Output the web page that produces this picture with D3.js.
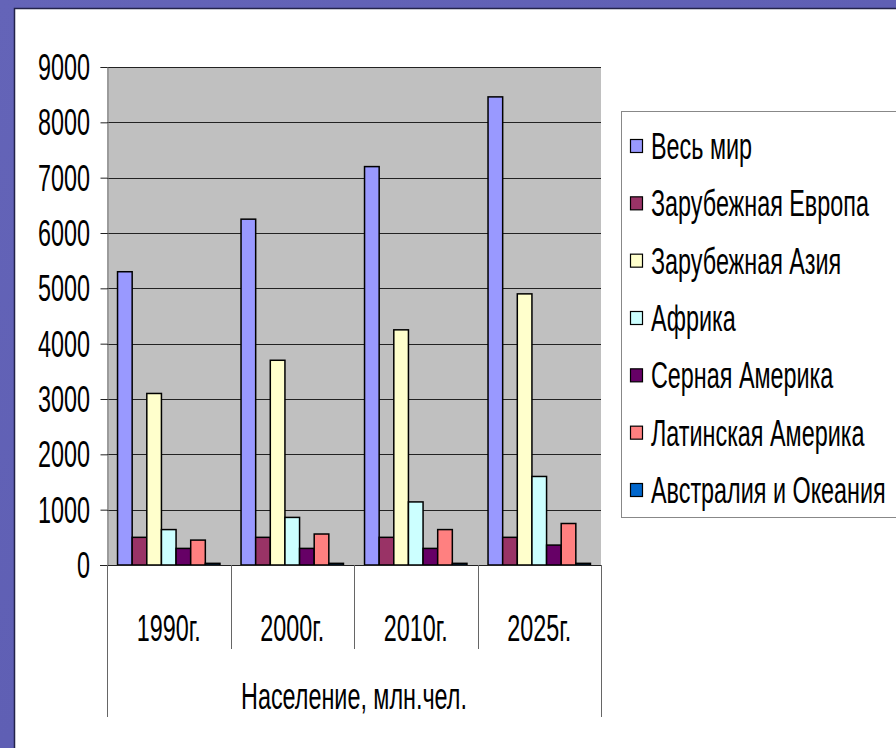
<!DOCTYPE html>
<html lang="ru">
<head>
  <title>Население, млн.чел.</title>
  <meta charset="utf-8">
  <script src="https://d3js.org/d3.v7.min.js"></script>
  <style>
    body { margin: 0; background: #fff; }
    text { font-family: "Liberation Sans", Arial, sans-serif; fill: #000; }
  </style>
</head>
<body>
<div class="chart"></div>

<script type="text/javascript">

// data
var years = ["1990г.", "2000г.", "2010г.", "2025г."];
var regions = ["Весь мир", "Зарубежная Европа", "Зарубежная Азия", "Африка",
               "Серная Америка", "Латинская Америка", "Австралия и Океания"];
var world     = [5300, 6250, 7200, 8460];
var europe    = [500, 500, 500, 500];
var asia      = [3100, 3700, 4250, 4900];
var africa    = [640, 860, 1140, 1600];
var northAm   = [300, 300, 300, 360];
var latinAm   = [450, 560, 640, 750];
var australia = [30, 30, 30, 30];
var yTicks = [0, 1000, 2000, 3000, 4000, 5000, 6000, 7000, 8000, 9000];
var axisTitle = "Население, млн.чел.";

var series = [world, europe, asia, africa, northAm, latinAm, australia];
var colors = ["#9999FF", "#993366", "#FFFFCC", "#CCFFFF", "#660066", "#FF8080", "#0066CC"];

var width = 896, height = 748;
var plot = {left: 107, right: 601, top: 67, bottom: 565};
// the text in the picture is tall and narrow
var squeeze = " scale(0.82,1.27)";

var svg = d3.select(".chart").append("svg")
    .attr("width", width)
    .attr("height", height);

// purple frame
var defs = svg.append("defs");
var grad = defs.append("linearGradient").attr("id", "frame")
    .attr("x1", 0).attr("y1", 0).attr("x2", 1).attr("y2", 1);
grad.append("stop").attr("offset", 0).attr("stop-color", "#6464b8");
grad.append("stop").attr("offset", 1).attr("stop-color", "#5a5ab0");

svg.append("rect").attr("width", width).attr("height", height).attr("fill", "url(#frame)");
svg.append("rect").attr("x", 14).attr("y", 9).attr("width", width).attr("height", height)
    .attr("fill", "#fff");
svg.append("path")
    .attr("d", "M14.5," + height + "V8.5H" + width)
    .attr("fill", "none")
    .attr("stroke", "#23234a")
    .attr("stroke-width", 1.5);

var x0 = d3.scaleBand()
    .domain(years)
    .range([plot.left, plot.right]);

var x1 = d3.scaleBand()
    .domain(d3.range(regions.length))
    .range([0, x0.bandwidth()])
    .paddingOuter(0.72);

var y = d3.scaleLinear()
    .domain([0, 9000])
    .range([plot.bottom, plot.top]);

// plot area
svg.append("rect")
    .attr("x", plot.left).attr("y", plot.top)
    .attr("width", plot.right - plot.left).attr("height", plot.bottom - plot.top)
    .attr("fill", "#C0C0C0");

svg.append("g").selectAll("line")
    .data(yTicks.slice(1))
    .enter().append("line")
    .attr("x1", plot.left).attr("x2", plot.right)
    .attr("y1", function(d){ return Math.round(y(d)) + 0.5; })
    .attr("y2", function(d){ return Math.round(y(d)) + 0.5; })
    .attr("stroke", "#222")
    .attr("stroke-width", 1);

// y axis
var yAxis = svg.append("g")
    .attr("transform", "translate(" + (plot.left + 0.5) + ",0)")
    .call(d3.axisLeft(y).tickValues(yTicks).tickSize(7).tickFormat(""));
yAxis.select(".domain").attr("stroke", "#777");
yAxis.selectAll(".tick line").attr("stroke", "#222");

svg.append("g").selectAll("text")
    .data(yTicks)
    .enter().append("text")
    .attr("transform", function(d){ return "translate(90," + y(d) + ")" + squeeze; })
    .attr("dy", "0.36em")
    .attr("text-anchor", "end")
    .style("font-size", "28.5px")
    .text(function(d){ return d; });

// bars
var groups = svg.append("g").selectAll("g")
    .data(years)
    .enter().append("g")
    .attr("transform", function(d){ return "translate(" + x0(d) + ",0)"; });

groups.selectAll("rect")
    .data(function(d, i){ return series.map(function(s, k){ return {k: k, v: s[i]}; }); })
    .enter().append("rect")
    .attr("x", function(d){ return x1(d.k); })
    .attr("y", function(d){ return y(d.v); })
    .attr("width", x1.bandwidth())
    .attr("height", function(d){ return plot.bottom - y(d.v); })
    .attr("fill", function(d){ return colors[d.k]; })
    .attr("stroke", "#000")
    .attr("stroke-width", 1.5);

// x axis with category boxes
svg.append("line")
    .attr("x1", plot.left - 7).attr("x2", plot.right)
    .attr("y1", plot.bottom + 0.5).attr("y2", plot.bottom + 0.5)
    .attr("stroke", "#222");

var edges = years.map(function(d){ return x0(d); }).concat([plot.right]);
svg.append("g").selectAll("line")
    .data(edges)
    .enter().append("line")
    .attr("x1", function(d){ return Math.round(d) + 0.5; })
    .attr("x2", function(d){ return Math.round(d) + 0.5; })
    .attr("y1", plot.bottom)
    .attr("y2", function(d, i){ return (i === 0 || i === edges.length - 1) ? 717 : 649; })
    .attr("stroke", "#666");

svg.append("g").selectAll("text")
    .data(years)
    .enter().append("text")
    .attr("transform", function(d){ return "translate(" + (x0(d) + x0.bandwidth() / 2) + ",628)" + squeeze; })
    .attr("dy", "0.36em")
    .attr("text-anchor", "middle")
    .style("font-size", "28.5px")
    .text(function(d){ return d; });

svg.append("text")
    .attr("transform", "translate(" + ((plot.left + plot.right) / 2) + ",696)" + squeeze)
    .attr("dy", "0.36em")
    .attr("text-anchor", "middle")
    .style("font-size", "28.5px")
    .text(axisTitle);

// legend
var legend = svg.append("g");
legend.append("rect")
    .attr("x", 621.5).attr("y", 111.5)
    .attr("width", 300).attr("height", 406)
    .attr("fill", "#fff")
    .attr("stroke", "#888");

var ly = d3.scalePoint()
    .domain(d3.range(regions.length))
    .range([146, 490]);

var item = legend.selectAll(".item")
    .data(regions)
    .enter().append("g")
    .attr("class", "item")
    .attr("transform", function(d, i){ return "translate(0," + ly(i) + ")"; });

item.append("rect")
    .attr("x", 630.5).attr("y", -6.5)
    .attr("width", 12).attr("height", 13)
    .attr("fill", function(d, i){ return colors[i]; })
    .attr("stroke", "#000")
    .attr("stroke-width", 1.2);

item.append("text")
    .attr("transform", "translate(651,0)" + squeeze)
    .attr("dy", "0.36em")
    .style("font-size", "28.5px")
    .text(function(d){ return d; });

</script>

</body>
</html>
